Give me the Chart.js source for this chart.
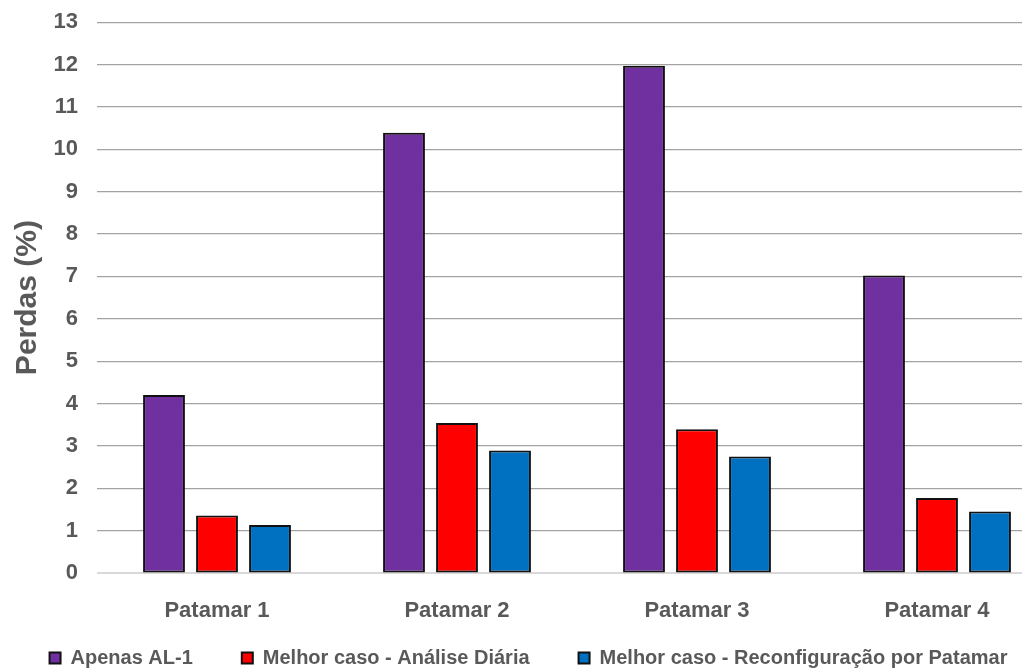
<!DOCTYPE html>
<html>
<head>
<meta charset="utf-8">
<script src="https://cdn.jsdelivr.net/npm/chart.js@4.4.1/dist/chart.umd.min.js"></script>
<style>
  html, body { margin: 0; padding: 0; background: #fff; overflow: hidden; }
  #wrap { width: 1080px; height: 707px; margin-top: -10px; }
</style>
</head>
<body>
<div id="wrap"><canvas id="perdas"></canvas></div>
<script>
// Categories and series (losses in %)
const patamares = ['Patamar 1', 'Patamar 2', 'Patamar 3', 'Patamar 4'];
const apenasAL1 = [4.2, 10.39, 11.97, 7.02];
const analiseDiaria = [1.36, 3.54, 3.39, 1.77];
const reconfigPatamar = [1.13, 2.89, 2.75, 1.45];
const yTicks = [0, 1, 2, 3, 4, 5, 6, 7, 8, 9, 10, 11, 12, 13];

const textGrey = '#595959';
const fontFamily = '"Liberation Sans", Arial, sans-serif';
const legendPad = 49;

function barSet(label, data, color) {
    return {
        label: label,
        data: data,
        backgroundColor: color,
        borderColor: '#111',
        borderWidth: 2,
        borderSkipped: false,
        categoryPercentage: 0.6625,
        barPercentage: 0.79
    };
}

// pull the legend row up so it sits just under the category labels
const legendLift = {
    id: 'legendLift',
    afterLayout(chart) {
        const lg = chart.legend;
        const h = lg.bottom - lg.top;
        lg.top = 668 - legendPad - 10;
        lg.bottom = lg.top + h;
    }
};

new Chart(document.getElementById('perdas'), {
    type: 'bar',
    data: {
        labels: patamares,
        datasets: [
            barSet('Apenas AL-1', apenasAL1, '#7030A0'),
            barSet('Melhor caso - Análise Diária', analiseDiaria, '#FF0000'),
            barSet('Melhor caso - Reconfiguração por Patamar', reconfigPatamar, '#0070C0')
        ]
    },
    plugins: [legendLift],
    options: {
        responsive: true,
        maintainAspectRatio: false,
        animation: false,
        layout: { padding: { top: 0, right: 23, bottom: 0, left: 0 } },
        plugins: {
            tooltip: { enabled: false },
            legend: {
                position: 'bottom',
                labels: {
                    boxWidth: 11,
                    boxHeight: 11,
                    padding: legendPad,
                    color: textGrey,
                    font: { family: fontFamily, size: 20, weight: 'bold' }
                }
            }
        },
        scales: {
            x: {
                grid: { display: false },
                border: { color: '#d9d9d9', width: 1 },
                ticks: {
                    padding: 17,
                    color: textGrey,
                    font: { family: fontFamily, size: 22, weight: 'bold' }
                },
                afterFit: (scale) => { scale.height = 45; }
            },
            y: {
                min: 0,
                max: 13,
                afterBuildTicks: (scale) => { scale.ticks = yTicks.map(v => ({ value: v })); },
                border: { display: false },
                grid: {
                    drawTicks: false,
                    color: (ctx) => ctx.tick.value === 0 ? '#d9d9d9' : '#a3a3a3',
                    lineWidth: 1.2
                },
                ticks: {
                    padding: 19,
                    color: textGrey,
                    font: { family: fontFamily, size: 22, weight: 'bold' }
                },
                title: {
                    display: true,
                    text: 'Perdas (%)',
                    color: textGrey,
                    padding: { top: 10, bottom: 0 },
                    font: { family: fontFamily, size: 30, weight: 'bold' }
                },
                afterFit: (scale) => { scale.width = 97; }
            }
        }
    }
});
</script>
</body>
</html>
